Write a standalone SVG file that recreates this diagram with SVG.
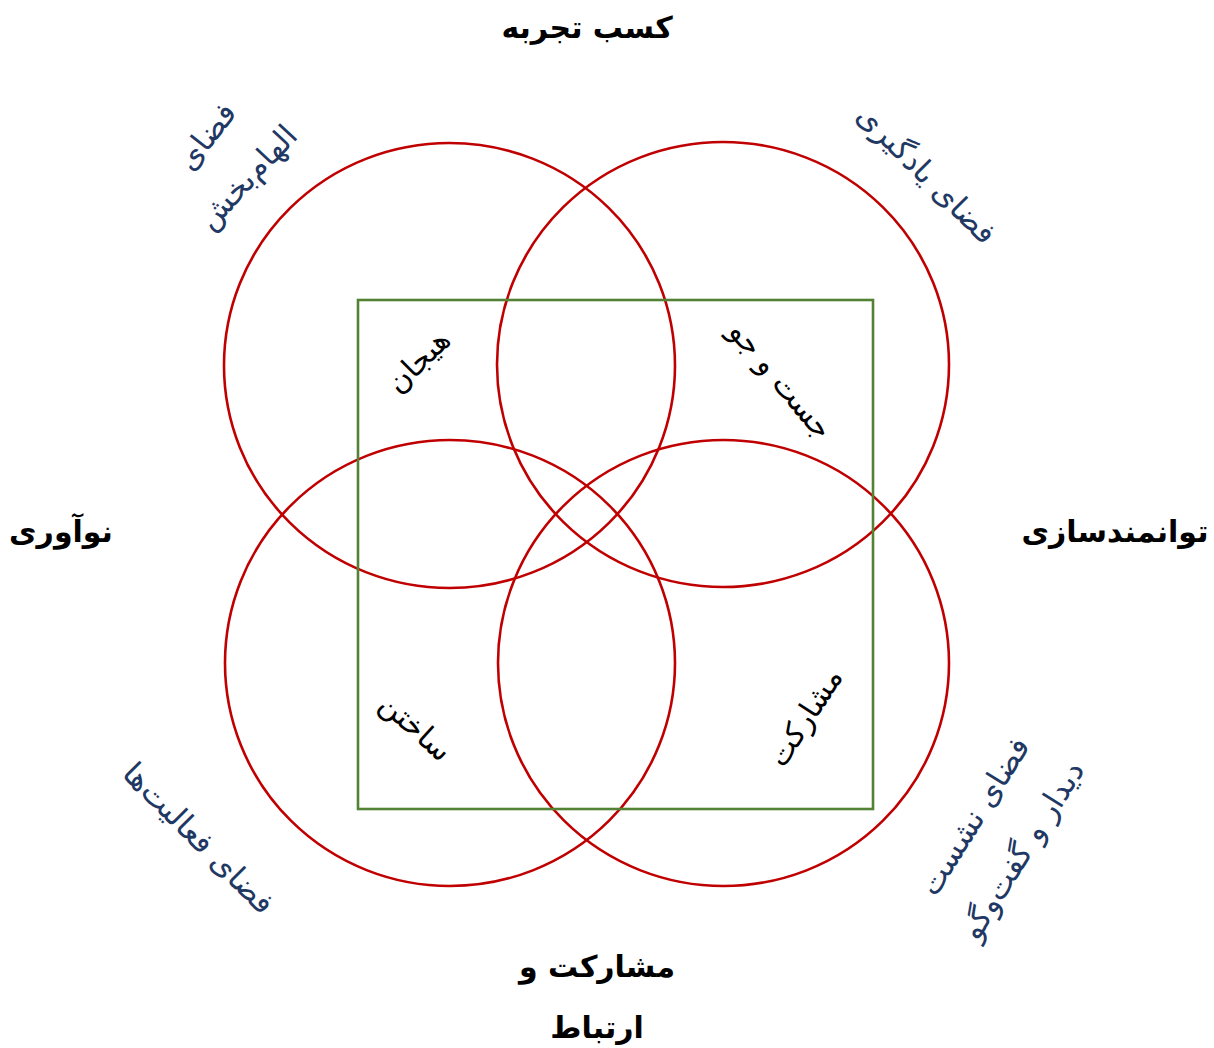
<svg xmlns="http://www.w3.org/2000/svg" width="1214" height="1048" viewBox="0 0 1214 1048">
<style>
.c{fill:none;stroke:#C00000;stroke-width:2.6}
.r{fill:none;stroke:#548235;stroke-width:2.6}
.h{font-family:"DejaVu Sans",sans-serif;font-weight:bold;font-size:30px;fill:#000;text-anchor:middle}
.b{font-family:"DejaVu Sans",sans-serif;font-size:31px;fill:#1F3864;text-anchor:middle;dominant-baseline:central}
.i{font-family:"DejaVu Sans",sans-serif;font-size:30px;fill:#000;text-anchor:middle;dominant-baseline:central}
</style>
<rect width="1214" height="1048" fill="#fff"/>
<g id="connectors"></g>
<g id="circle-tl"><ellipse class="c" cx="449.5" cy="365.5" rx="225.5" ry="222.5"/></g>
<g id="circle-tr"><ellipse class="c" cx="723" cy="364.5" rx="226" ry="222.5"/></g>
<g id="circle-bl"><ellipse class="c" cx="450" cy="663" rx="225" ry="223"/></g>
<g id="circle-br"><ellipse class="c" cx="723.5" cy="663" rx="225.5" ry="223"/></g>
<g id="square"><rect class="r" x="358" y="300" width="515" height="509"/></g>
<g id="label-top"><text class="h" x="587" y="38">کسب تجربه</text></g>
<g id="label-left"><text class="h" x="61" y="542">نوآوری</text></g>
<g id="label-right"><text class="h" x="1115" y="542">توانمندسازی</text></g>
<g id="label-bottom"><text class="h" x="597" y="977">مشارکت و</text><text class="h" x="597" y="1038">ارتباط</text></g>
<g id="space-tl"><text class="b" transform="translate(206,136) rotate(-52)">فضای</text><text class="b" transform="translate(247,177) rotate(-47)">الهام&#x200C;بخش</text></g>
<g id="space-tr"><text class="b" transform="translate(927,174) rotate(45)">فضای یادگیری</text></g>
<g id="space-bl"><text class="b" transform="translate(199,838) rotate(45)">فضای فعالیت&#x200C;ها</text></g>
<g id="space-br"><text class="b" transform="translate(974,816) rotate(-58)">فضای نشست</text><text class="b" transform="translate(1022,850) rotate(-58)">دیدار و گفت&#x200C;وگو</text></g>
<g id="inner-tl"><text class="i" transform="translate(418,361) rotate(-45)">هیجان</text></g>
<g id="inner-tr"><text class="i" transform="translate(781,380) rotate(50)">جست و جو</text></g>
<g id="inner-bl"><text class="i" transform="translate(416,727) rotate(42)">ساختن</text></g>
<g id="inner-br"><text class="i" transform="translate(805,717) rotate(-57)">مشارکت</text></g>
</svg>
